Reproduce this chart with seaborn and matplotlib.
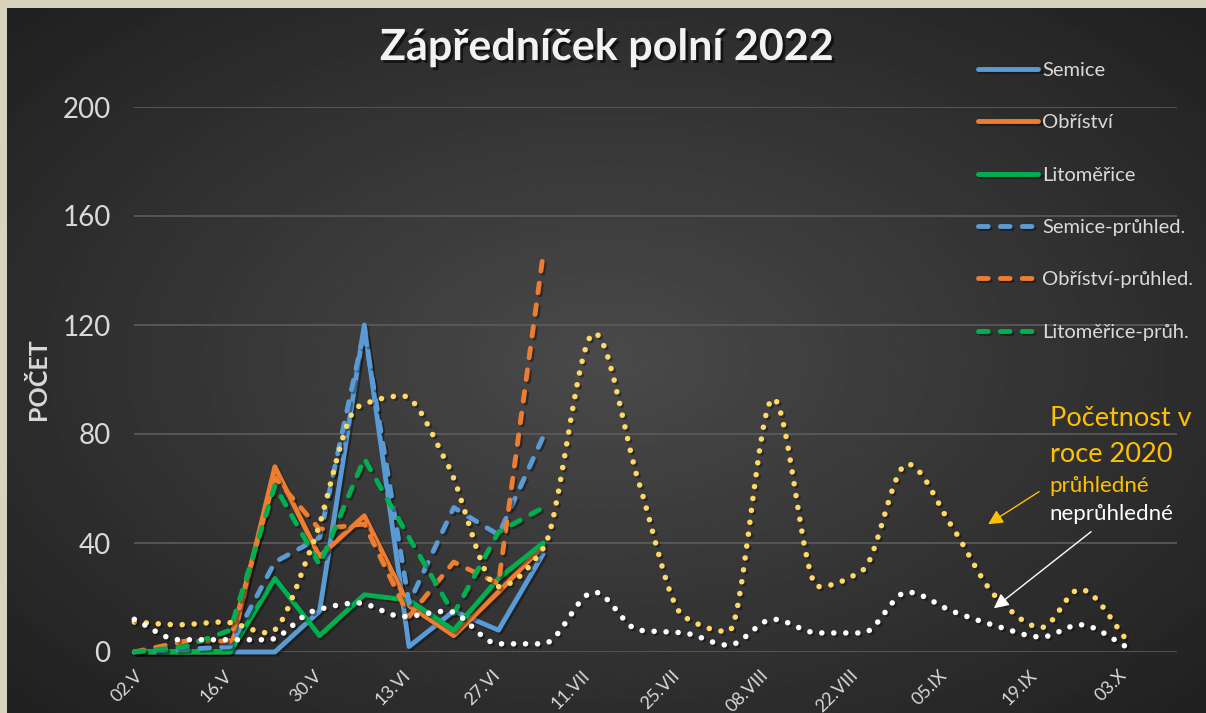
import numpy as np
import pandas as pd
import matplotlib
matplotlib.use("Agg")
import matplotlib.pyplot as plt
import matplotlib.dates as mdates
import matplotlib.patheffects as pe
from matplotlib.path import Path
from matplotlib.patches import PathPatch
import seaborn as sns

# odběry 2022
dates_2022 = pd.to_datetime(["2022-05-02", "2022-05-10", "2022-05-17", "2022-05-24", "2022-05-31",
                             "2022-06-07", "2022-06-14", "2022-06-21", "2022-06-28", "2022-07-05"])
semice = [0, 0, 0, 0, 15, 120, 2, 15, 8, 36]
obristvi = [0, 0, 0, 68, 35, 50, 17, 6, 22, 39]
litomerice = [0, 0, 0, 27, 6, 21, 19, 8, 27, 40]
semice_pr = [0, 1, 2, 33, 42, 118, 18, 53, 43, 79]
obristvi_pr = [0, 4, 4, 64, 45, 47, 13, 33, 25, 146]
litomerice_pr = [0, 2, 8, 61, 32, 71, 42, 14, 44, 53]

# početnost v roce 2020 (vynesená do stejného kalendáře)
dates_2020 = pd.to_datetime(["2022-05-02", "2022-05-09", "2022-05-16", "2022-05-23", "2022-05-30",
                             "2022-06-06", "2022-06-13", "2022-06-20", "2022-06-28", "2022-07-05",
                             "2022-07-13", "2022-07-20", "2022-07-27", "2022-08-03", "2022-08-10",
                             "2022-08-17", "2022-08-24", "2022-08-31", "2022-09-07", "2022-09-14",
                             "2022-09-21", "2022-09-27", "2022-10-05"])
pruhledne_2020 = [11, 10, 11, 7, 40, 90, 94, 69, 24, 38, 117, 62, 13, 7.5, 93, 24, 30, 69, 46, 20, 9, 23, 2.5]
nepruhledne_2020 = [12, 4.5, 4.5, 4.5, 15, 18, 13, 15, 3, 3, 22, 8, 7, 2.5, 12, 7, 7, 22, 15, 9.5, 5.5, 10, 1]

tick_dates = pd.to_datetime(["2022-05-02", "2022-05-16", "2022-05-30", "2022-06-13", "2022-06-27",
                             "2022-07-11", "2022-07-25", "2022-08-08", "2022-08-22", "2022-09-05",
                             "2022-09-19", "2022-10-03"])
tick_labels = ["02.V", "16.V", "30.V", "13.VI", "27.VI", "11.VII", "25.VII",
               "08.VIII", "22.VIII", "05.IX", "19.IX", "03.X"]
y_ticks = [0, 40, 80, 120, 160, 200]

BLUE, ORANGE, GREEN = "#5B9BD5", "#ED7D31", "#00B050"
DASH = (0, (2.0, 2.5))
DOT = (0, (0.01, 2.15))


def smooth_path(xs, ys):
    """smoothed line drawn as bezier segments through the data points (monotone tangents)"""
    xs = mdates.date2num(xs)
    ys = np.asarray(ys, float)
    n = len(xs)
    h = np.diff(xs)
    d = np.diff(ys) / h
    m = np.zeros(n)
    m[0], m[-1] = d[0], d[-1]
    for k in range(1, n - 1):
        if d[k - 1] * d[k] > 0:
            w1 = 2 * h[k] + h[k - 1]
            w2 = h[k] + 2 * h[k - 1]
            m[k] = (w1 + w2) / (w1 / d[k - 1] + w2 / d[k])
    verts = [(xs[0], ys[0])]
    codes = [Path.MOVETO]
    for k in range(n - 1):
        verts += [(xs[k] + h[k] / 3, ys[k] + m[k] * h[k] / 3),
                  (xs[k + 1] - h[k] / 3, ys[k + 1] - m[k + 1] * h[k] / 3),
                  (xs[k + 1], ys[k + 1])]
        codes += [Path.CURVE4] * 3
    return Path(verts, codes)


sns.set_theme(style="dark")
plt.rcParams["font.family"] = ["Lato", "DejaVu Sans"]

fig = plt.figure(figsize=(12.06, 7.13), dpi=100)
fig.patch.set_facecolor("#d9d3bd")

# tmavé pozadí s radiálním přechodem
bg = fig.add_axes([7 / 1206, 0, 1199 / 1206, 705 / 713], zorder=-10)
yy, xx = np.mgrid[0:1:300j, 0:1:500j]
r = np.sqrt(((xx - 0.5) / 0.72) ** 2 + ((yy - 0.5) / 0.75) ** 2)
shade = 0.29 - 0.17 * np.clip(r, 0, 1)
bg.imshow(shade, cmap="gray", vmin=0, vmax=1, extent=[0, 1, 0, 1], aspect="auto")
bg.axis("off")

ax = fig.add_axes([134.3 / 1206, 61 / 713, 1042.7 / 1206, 545 / 713])
ax.set_facecolor("none")

shadow = [pe.SimpleLineShadow(offset=(1.5, -1.5), shadow_color="black", alpha=0.35), pe.Normal()]

series = [
    ("Semice", semice, BLUE, "-"),
    ("Obříství", obristvi, ORANGE, "-"),
    ("Litoměřice", litomerice, GREEN, "-"),
    ("Semice-průhled.", semice_pr, BLUE, DASH),
    ("Obříství-průhled.", obristvi_pr, ORANGE, DASH),
    ("Litoměřice-průh.", litomerice_pr, GREEN, DASH),
]
handles = []
for name, vals, col, ls in series:
    sns.lineplot(x=dates_2022, y=vals, ax=ax, color=col, linewidth=3.5, linestyle=ls,
                 solid_capstyle="round", dash_capstyle="round", solid_joinstyle="round",
                 clip_on=False, path_effects=shadow, legend=False)
    handles.append(ax.lines[-1])

for vals, col in [(pruhledne_2020, "#FFD966"), (nepruhledne_2020, "#FFFFFF")]:
    patch = PathPatch(smooth_path(dates_2020, vals), fill=False, edgecolor=col, linewidth=4,
                      linestyle=DOT, capstyle="round", clip_on=False, zorder=3,
                      path_effects=shadow)
    ax.add_patch(patch)

ax.set_xlim(mdates.date2num(pd.Timestamp("2022-05-02")), mdates.date2num(pd.Timestamp("2022-10-12 05:00")))
ax.set_ylim(0, 200)
ax.set_yticks(y_ticks)
ax.set_xticks(mdates.date2num(tick_dates))
ax.set_xticklabels(tick_labels, rotation=45, ha="right", va="top", rotation_mode="anchor")
ax.tick_params(axis="x", length=5, width=1, color="#7f7f7f", labelsize=13, labelcolor="#d9d9d9", pad=6)
ax.tick_params(axis="y", length=0, labelsize=20, labelcolor="#d9d9d9", pad=17)
ax.grid(axis="y", color="#5c5c5c", linewidth=1.2)
ax.grid(axis="x", visible=False)
ax.set_axisbelow(True)
for s in ax.spines.values():
    s.set_visible(False)
ax.set_xlabel("")
ax.set_ylabel("POČET", fontsize=18, fontweight="bold", color="#d9d9d9")
ax.yaxis.set_label_coords(-0.081, 0.5)

fig.text(0.503, 0.934, "Zápředníček polní 2022", ha="center", va="center", fontsize=31,
         fontweight="bold", color="#f2f2f2",
         path_effects=[pe.withSimplePatchShadow(offset=(2, -2), shadow_rgbFace="black", alpha=0.6)])

fig.legend(handles, [s[0] for s in series], loc="upper left", bbox_to_anchor=(978 / 1206, 1 - 62 / 713),
           frameon=False, fontsize=14.5, handlelength=3.0, handletextpad=0.2, labelspacing=1.75,
           borderpad=0, borderaxespad=0, labelcolor="#d9d9d9")

# popisky k roku 2020
ax.text(0.878, 0.415, "Početnost v", transform=ax.transAxes, fontsize=19.5, color="#FFC000", va="baseline")
ax.text(0.878, 0.349, "roce 2020", transform=ax.transAxes, fontsize=19.5, color="#FFC000", va="baseline")
ax.text(0.878, 0.294, "průhledné", transform=ax.transAxes, fontsize=16, color="#FFC000", va="baseline")
ax.text(0.878, 0.242, "neprůhledné", transform=ax.transAxes, fontsize=16, color="#FFFFFF", va="baseline")
ax.annotate("", xy=(0.8166, 0.2317), xytext=(0.870, 0.297), xycoords="axes fraction",
            arrowprops=dict(arrowstyle="-|>", color="#FFC000", lw=1, mutation_scale=22))
ax.annotate("", xy=(0.8223, 0.0771), xytext=(0.9197, 0.2239), xycoords="axes fraction",
            arrowprops=dict(arrowstyle="-|>", color="#FFFFFF", lw=1, mutation_scale=22))

fig.savefig("out.png", dpi=100, facecolor=fig.get_facecolor())
